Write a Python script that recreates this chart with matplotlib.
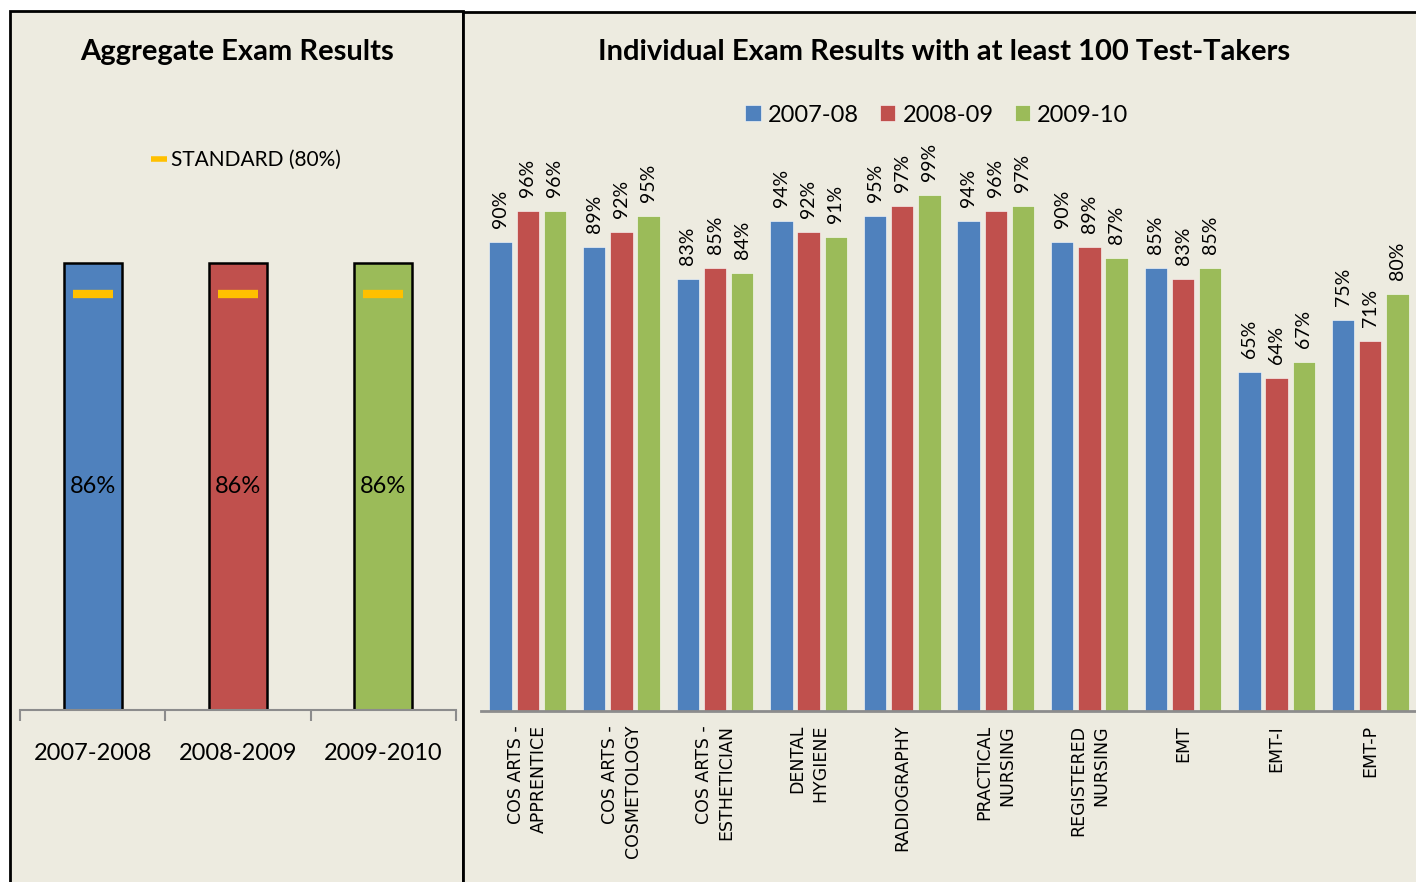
import matplotlib
matplotlib.use('Agg')
import matplotlib.pyplot as plt
from matplotlib.patches import Rectangle
from matplotlib.lines import Line2D
import numpy as np

# data ------------------------
years = ['2007-2008', '2008-2009', '2009-2010']
aggregate = [86, 86, 86]
standard = [80, 80, 80]

exams = ['COS ARTS -\nAPPRENTICE', 'COS ARTS -\nCOSMETOLOGY', 'COS ARTS -\nESTHETICIAN',
         'DENTAL\nHYGIENE', 'RADIOGRAPHY', 'PRACTICAL\nNURSING', 'REGISTERED\nNURSING',
         'EMT', 'EMT-I', 'EMT-P']
series_names = ['2007-08', '2008-09', '2009-10']
res_0708 = [90, 89, 83, 94, 95, 94, 90, 85, 65, 75]
res_0809 = [96, 92, 85, 92, 97, 96, 89, 83, 64, 71]
res_0910 = [96, 95, 84, 91, 99, 97, 87, 85, 67, 80]

colors = ['#4F81BD', '#C0504D', '#9BBB59']
bg = '#EDEBE0'
W, H = 1416, 882

plt.rcParams['font.family'] = ['Lato', 'DejaVu Sans']

fig = plt.figure(figsize=(W / 100, H / 100), dpi=100, facecolor='white')

def px(x0, y0, x1, y1):
    # pixel box (top-left origin) -> figure fraction rect
    return [x0 / W, 1 - y1 / H, (x1 - x0) / W, (y1 - y0) / H]

# panel frames
for x0, y0, x1 in [(10, 11, 463), (463, 12, 1430)]:
    r = px(x0, y0, x1, 900)
    fig.patches.append(Rectangle((r[0], r[1]), r[2], r[3], transform=fig.transFigure,
                                 facecolor=bg, edgecolor='black', linewidth=2, zorder=-5))

# left: aggregate ------------------------
ax1 = fig.add_axes(px(20, 190, 456, 710))
ax1.set_zorder(2)
ax1.set_facecolor('none')
x = np.arange(len(years))
bars = ax1.bar(x, aggregate, width=0.4, color=colors, edgecolor='black', linewidth=1.8, zorder=2)
for b, v in zip(bars, aggregate):
    ax1.text(b.get_x() + b.get_width() / 2, v / 2, f'{v}%', ha='center', va='center',
             fontsize=17, color='black')
ax1.plot(x, standard, ls='none', marker='_', ms=29, mew=6, color='#FFC000', zorder=3)
ax1.set_xlim(-0.5, 2.5)
ax1.set_ylim(0, 100)
ax1.set_yticks([])
for s in ['top', 'left', 'right']:
    ax1.spines[s].set_visible(False)
ax1.spines['bottom'].set_color('#8C8C8C')
ax1.spines['bottom'].set_linewidth(1.5)
ax1.set_xticks([-0.5, 0.5, 1.5, 2.5])
ax1.set_xticklabels([])
ax1.tick_params(axis='x', which='major', length=8, width=1.5, color='#8C8C8C', direction='out')
ax1.set_xticks(x, minor=True)
ax1.set_xticklabels(years, minor=True, fontsize=17)
ax1.tick_params(axis='x', which='minor', length=0, pad=24)
std_handle = Line2D([], [], ls='none', marker='_', ms=12, mew=4, color='#FFC000')
fig.legend([std_handle], ['STANDARD (80%)'], loc='center', bbox_to_anchor=(247 / W, 1 - 160 / H),
           frameon=False, fontsize=15, handlelength=0.6, handletextpad=0.3)
fig.text(237 / W, 1 - 52 / H, 'Aggregate Exam Results', ha='center', va='center',
         fontsize=21, fontweight='bold')

# right: individual ------------------------
ax2 = fig.add_axes(px(481, 190, 1417, 711))
ax2.set_zorder(2)
ax2.set_facecolor('none')
xe = np.arange(len(exams))
for i, (vals, name) in enumerate(zip([res_0708, res_0809, res_0910], series_names)):
    b = ax2.bar(xe + (i - 1) * 0.29, vals, width=0.24, color=colors[i], label=name,
                edgecolor='white', linewidth=0.4, zorder=2)
    ax2.bar_label(b, labels=[f'{v}%' for v in vals], rotation=90, padding=10, fontsize=14)
ax2.set_xlim(-0.5, len(exams) - 0.5)
ax2.set_ylim(0, 100)
ax2.set_yticks([])
for s in ['top', 'left', 'right']:
    ax2.spines[s].set_visible(False)
ax2.spines['bottom'].set_color('#8C8C8C')
ax2.spines['bottom'].set_linewidth(2)
ax2.set_xticks(xe)
ax2.set_xticklabels(exams, rotation=90, fontsize=12.5, family='DejaVu Sans',
                    multialignment='right', linespacing=1.35)
ax2.tick_params(axis='x', length=0, pad=10)
ax2.legend(loc='center', bbox_to_anchor=(937 / W, 1 - 115 / H), bbox_transform=fig.transFigure,
           ncol=3, frameon=False, fontsize=17, handlelength=0.65, handleheight=0.65,
           handletextpad=0.3, columnspacing=0.9)
fig.text(944 / W, 1 - 52 / H, 'Individual Exam Results with at least 100 Test-Takers',
         ha='center', va='center', fontsize=21, fontweight='bold')

fig.savefig('out.png', dpi=100, facecolor=fig.get_facecolor())
